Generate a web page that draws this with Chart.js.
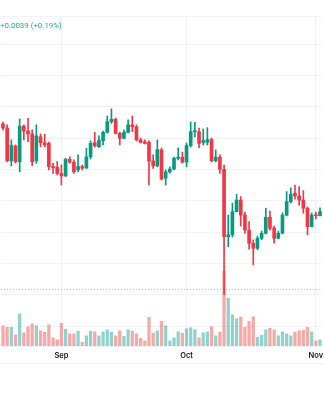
<!DOCTYPE html>
<html lang="en">
<head>
<meta charset="UTF-8">
<title>Daily candles with volume</title>
<script src="https://cdn.jsdelivr.net/npm/chart.js"></script>
<style>
  html, body { margin: 0; padding: 0; background: #fff; }
  #wrap { position: relative; width: 324px; height: 400px; overflow: hidden; }
  #chart { position: absolute; left: -2px; top: 0; }
  #change { position: absolute; left: 0; top: 21px; font: 7.9px Roboto, sans-serif; color: #22ab94; white-space: nowrap; }
</style>
</head>
<body>
<div id="wrap">
  <canvas id="chart" width="327" height="400"></canvas>
  <div id="change">+0.0039 (+0.19%)</div>
</div>
<script>
  // daily bars, Aug 18 - Nov 2
  const dates = [
    '08-18','08-19','08-20','08-21','08-22','08-23','08-24','08-25','08-26','08-27','08-28','08-29','08-30','08-31',
    '09-01','09-02','09-03','09-04','09-05','09-06','09-07','09-08','09-09','09-10','09-11','09-12','09-13','09-14','09-15',
    '09-16','09-17','09-18','09-19','09-20','09-21','09-22','09-23','09-24','09-25','09-26','09-27','09-28','09-29','09-30',
    '10-01','10-02','10-03','10-04','10-05','10-06','10-07','10-08','10-09','10-10','10-11','10-12','10-13','10-14','10-15',
    '10-16','10-17','10-18','10-19','10-20','10-21','10-22','10-23','10-24','10-25','10-26','10-27','10-28','10-29','10-30',
    '10-31','11-01','11-02'
  ];
  const monthNames = { '09-01': 'Sep', '10-01': 'Oct', '11-01': 'Nov' };

  const opens = [
    2.345, 2.332, 2.227, 2.275, 2.224, 2.338, 2.323, 2.313, 2.227, 2.304,
    2.285, 2.283, 2.209, 2.207, 2.187, 2.179, 2.232, 2.223, 2.198, 2.209,
    2.204, 2.240, 2.285, 2.272, 2.292, 2.318, 2.352, 2.360, 2.315, 2.299,
    2.318, 2.342, 2.336, 2.294, 2.288, 2.286, 2.227, 2.211, 2.262, 2.172,
    2.192, 2.201, 2.235, 2.239, 2.223, 2.276, 2.320, 2.320, 2.286, 2.286,
    2.295, 2.227, 2.239, 2.200, 1.985, 1.991, 2.065, 2.102, 2.054, 2.006,
    1.964, 1.948, 1.980, 1.996, 2.047, 2.012, 1.980, 1.996, 2.054, 2.097,
    2.124, 2.115, 2.102, 2.076, 2.017, 2.054, 2.052
  ];
  const highs = [
    2.351, 2.342, 2.294, 2.278, 2.361, 2.342, 2.363, 2.326, 2.342, 2.313,
    2.312, 2.287, 2.219, 2.225, 2.214, 2.235, 2.240, 2.230, 2.246, 2.214,
    2.268, 2.291, 2.318, 2.307, 2.322, 2.370, 2.393, 2.364, 2.319, 2.326,
    2.358, 2.370, 2.342, 2.300, 2.294, 2.291, 2.246, 2.294, 2.268, 2.198,
    2.208, 2.239, 2.268, 2.255, 2.284, 2.351, 2.350, 2.332, 2.329, 2.333,
    2.300, 2.262, 2.246, 2.214, 2.054, 2.092, 2.120, 2.113, 2.064, 2.033,
    1.975, 1.987, 2.003, 2.076, 2.067, 2.019, 2.003, 2.061, 2.129, 2.141,
    2.150, 2.145, 2.132, 2.080, 2.061, 2.064, 2.077
  ];
  const lows = [
    2.326, 2.224, 2.211, 2.220, 2.192, 2.294, 2.288, 2.212, 2.219, 2.272,
    2.272, 2.198, 2.187, 2.182, 2.150, 2.177, 2.219, 2.187, 2.192, 2.198,
    2.203, 2.233, 2.271, 2.270, 2.278, 2.316, 2.347, 2.313, 2.278, 2.297,
    2.316, 2.320, 2.291, 2.284, 2.281, 2.150, 2.203, 2.208, 2.166, 2.150,
    2.188, 2.198, 2.230, 2.220, 2.208, 2.271, 2.304, 2.269, 2.278, 2.278,
    2.224, 2.224, 2.187, 1.800, 1.953, 1.984, 2.064, 2.019, 1.996, 1.945,
    1.895, 1.943, 1.975, 1.994, 2.006, 1.964, 1.978, 1.994, 2.051, 2.093,
    2.105, 2.086, 2.060, 1.991, 2.016, 2.042, 2.051
  ];
  const closes = [
    2.332, 2.228, 2.276, 2.224, 2.338, 2.323, 2.313, 2.224, 2.307, 2.285,
    2.278, 2.209, 2.205, 2.187, 2.179, 2.232, 2.223, 2.192, 2.209, 2.204,
    2.240, 2.283, 2.275, 2.292, 2.318, 2.352, 2.360, 2.315, 2.299, 2.318,
    2.342, 2.336, 2.294, 2.286, 2.283, 2.226, 2.211, 2.263, 2.169, 2.192,
    2.201, 2.235, 2.239, 2.223, 2.276, 2.320, 2.323, 2.283, 2.292, 2.295,
    2.227, 2.239, 2.200, 1.985, 1.991, 2.065, 2.102, 2.054, 2.006, 1.964,
    1.948, 1.980, 1.996, 2.047, 2.012, 1.980, 1.996, 2.054, 2.097, 2.120,
    2.115, 2.102, 2.076, 2.017, 2.054, 2.052, 2.065
  ];
  // volume, millions
  const volumes = [
    41, 38, 38, 23, 65, 27, 39, 45, 41, 31,
    28, 43, 17, 13, 46, 34, 25, 25, 30, 8,
    21, 30, 29, 21, 29, 33, 28, 21, 31, 20,
    33, 30, 25, 16, 11, 58, 26, 31, 50, 41,
    11, 17, 29, 26, 35, 37, 33, 17, 27, 29,
    39, 21, 28, 150, 96, 63, 55, 59, 38, 50,
    59, 18, 22, 33, 36, 33, 21, 29, 25, 21,
    28, 31, 32, 38, 29, 11, 13
  ];

  const refPrice = 1.818;      // dotted price line
  const priceMin = 1.6362;
  const priceMax = 2.6894;
  const volMax = 660;

  const upColor = '#089981';
  const downColor = '#f23645';
  const volUp = 'rgba(38,166,154,0.5)';
  const volDown = 'rgba(239,83,80,0.5)';
  const gridColor = '#f0f2f5';

  const isUp = i => closes[i] >= opens[i];

  const paneLines = {
    id: 'paneLines',
    beforeDatasetsDraw(chart) {
      const { ctx, chartArea: a, scales: { y } } = chart;
      ctx.save();
      ctx.lineWidth = 1;
      ctx.strokeStyle = 'rgba(38,166,154,0.55)';
      ctx.setLineDash([1, 2]);
      const py = Math.round(y.getPixelForValue(refPrice)) + 0.5;
      ctx.beginPath(); ctx.moveTo(a.left, py); ctx.lineTo(a.right, py); ctx.stroke();
      ctx.setLineDash([]);
      ctx.strokeStyle = gridColor;
      const by = a.bottom + 17.5;
      ctx.beginPath(); ctx.moveTo(0, by); ctx.lineTo(chart.width, by); ctx.stroke();
      ctx.restore();
    }
  };

  new Chart(document.getElementById('chart'), {
    type: 'bar',
    data: {
      labels: dates,
      datasets: [
        {
          label: 'Bodies',
          data: opens.map((o, i) => [o, closes[i]]),
          backgroundColor: c => isUp(c.dataIndex) ? upColor : downColor,
          barThickness: 3,
          minBarLength: 1,
          grouped: false,
          yAxisID: 'y',
          order: 1
        },
        {
          label: 'Wicks',
          data: lows.map((l, i) => [l, highs[i]]),
          backgroundColor: c => isUp(c.dataIndex) ? upColor : downColor,
          barThickness: 1,
          grouped: false,
          yAxisID: 'y',
          order: 2
        },
        {
          label: 'Volume',
          data: volumes,
          backgroundColor: c => isUp(c.dataIndex) ? volUp : volDown,
          barPercentage: 0.78,
          categoryPercentage: 1,
          grouped: false,
          yAxisID: 'y2',
          order: 3
        }
      ]
    },
    options: {
      responsive: false,
      animation: false,
      layout: { padding: { top: 16, left: 0, right: 0, bottom: 0 } },
      plugins: {
        legend: { display: false },
        tooltip: { enabled: false }
      },
      scales: {
        x: {
          offset: true,
          grid: {
            offset: false,
            drawTicks: false,
            color: c => monthNames[dates[c.index]] ? gridColor : 'rgba(0,0,0,0)'
          },
          border: { display: false },
          ticks: {
            autoSkip: false,
            maxRotation: 0,
            padding: 5,
            color: '#131722',
            font: { family: 'Inter', size: 7.5, weight: '600' },
            callback: (v, i) => monthNames[dates[i]] || ''
          },
          afterFit: s => { s.height = 54; }
        },
        y: {
          min: priceMin,
          max: priceMax,
          grid: { color: gridColor, drawTicks: false },
          border: { display: false },
          ticks: { display: false, stepSize: 0.1 }
        },
        y2: {
          display: false,
          min: 0,
          max: volMax
        }
      }
    },
    plugins: [paneLines]
  });
</script>
</body>
</html>
